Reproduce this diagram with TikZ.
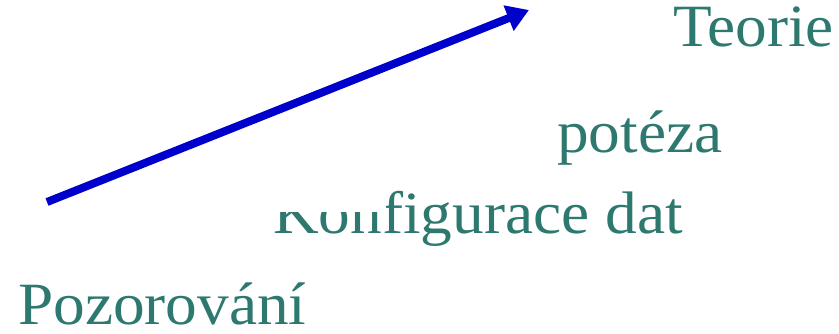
\documentclass[tikz,border=0pt]{standalone}
\usepackage{fontspec}
\setmainfont[FakeStretch=1.055]{Liberation Serif}
\usetikzlibrary{arrows.meta}
\definecolor{teal1}{RGB}{46,121,111}
\definecolor{arrowblue}{RGB}{0,0,204}
\tikzset{
  lbl/.style={anchor=base west, inner sep=0pt, text=teal1, font=\fontsize{60}{70}\selectfont},
  cover/.style={fill=white, draw=none},
  bigarrow/.style={draw=arrowblue, line width=8pt, -{Triangle[length=22pt,width=26pt]}}
}
\begin{document}
\begin{tikzpicture}[x=1pt,y=-1pt]
\useasboundingbox (0,0) rectangle (839,333);
\node[lbl] (teorie) at (673,46) {Teorie};
\node[lbl] (hyp) at (557,152) {potéza};
\node[lbl] (konf) at (273,233) {Konfigurace dat};
\node[lbl] (poz) at (18,324) {Pozorování};
% white cover that clips the top of the text as in the reference
\fill[cover] (260,180) rectangle (386,212);
\coordinate (a0) at (47,202);
\coordinate (a1) at (529,10);
\draw[bigarrow] (a0) -- (a1);
\end{tikzpicture}
\end{document}
